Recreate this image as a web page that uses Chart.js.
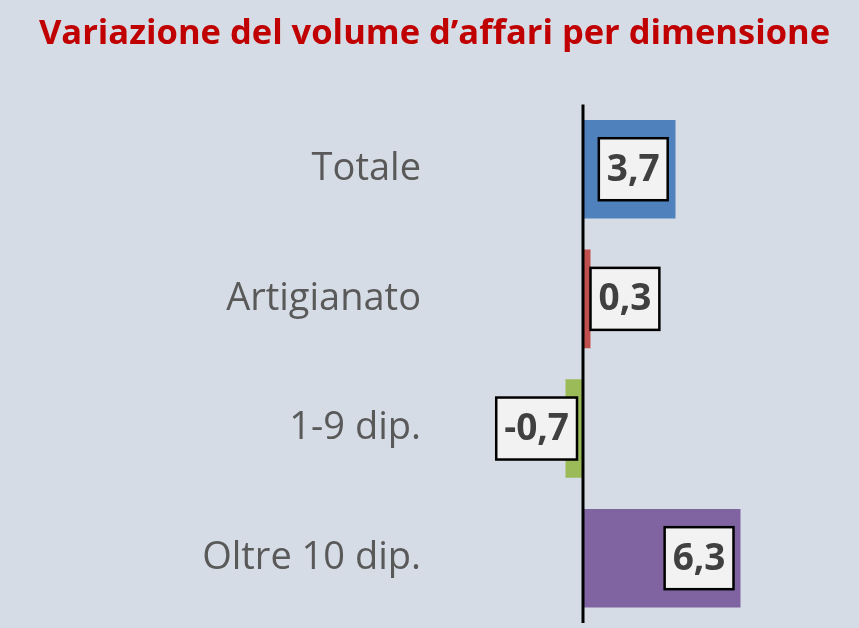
<!DOCTYPE html>
<html>
<head>
<meta charset="utf-8">
<script src="https://cdn.jsdelivr.net/npm/chart.js@4"></script>
<style>
  html, body { margin: 0; padding: 0; background: #d6dce5; }
  #wrap { width: 859px; height: 628px; }
</style>
</head>
<body>
<div id="wrap"><canvas id="chart"></canvas></div>
<script>
const categories = ['Totale', 'Artigianato', '1-9 dip.', 'Oltre 10 dip.'];
const values = [3.7, 0.3, -0.7, 6.3];
const barColors = ['#4f81bd', '#c0504d', '#9bbb59', '#8064a2'];
// where each value box sits relative to its bar
const labelPos = ['center', 'outside', 'outside', 'inside'];

// black zero line + boxed value labels
const boxLabels = {
  id: 'boxLabels',
  afterDatasetsDraw(chart) {
    const ctx = chart.ctx;
    const area = chart.chartArea;
    const x0 = chart.scales.x.getPixelForValue(0);
    ctx.save();
    ctx.strokeStyle = '#000';
    ctx.lineWidth = 3;
    ctx.beginPath();
    ctx.moveTo(x0, area.top);
    ctx.lineTo(x0, area.bottom);
    ctx.stroke();

    const meta = chart.getDatasetMeta(0);
    ctx.font = 'bold 37px "Open Sans"';
    meta.data.forEach((bar, i) => {
      const text = values[i].toFixed(1).replace('.', ',');
      const w = ctx.measureText(text).width + 16;
      const h = 62;
      const neg = values[i] < 0;
      let left;
      if (labelPos[i] === 'center') {
        left = (bar.x + bar.base) / 2 - w / 2 + 4;
      } else if (labelPos[i] === 'outside') {
        left = neg ? bar.base - 6 - w : bar.x;
      } else {
        left = bar.x - 7 - w;
      }
      const top = bar.y - h / 2;
      ctx.fillStyle = '#f2f2f2';
      ctx.fillRect(left, top, w, h);
      ctx.lineWidth = 2.5;
      ctx.strokeStyle = '#000';
      ctx.strokeRect(left, top, w, h);
      ctx.fillStyle = '#404040';
      ctx.textAlign = 'center';
      ctx.textBaseline = 'middle';
      ctx.fillText(text, left + w / 2, bar.y + 1);
    });
    ctx.restore();
  }
};

new Chart(document.getElementById('chart'), {
  type: 'bar',
  data: {
    labels: categories,
    datasets: [{
      data: values,
      backgroundColor: barColors,
      categoryPercentage: 1,
      barPercentage: 0.76,
    }],
  },
  options: {
    indexAxis: 'y',
    responsive: true,
    maintainAspectRatio: false,
    animation: false,
    layout: { padding: { left: 36, right: 26, bottom: 5 } },
    plugins: {
      legend: { display: false },
      tooltip: { enabled: false },
      title: {
        display: true,
        text: 'Variazione del volume d\u2019affari per dimensione',
        color: '#c00000',
        font: { family: 'Open Sans', size: 34.5, weight: 'bold' },
        padding: { top: 13, bottom: 50 },
      },
    },
    scales: {
      x: {
        display: false,
        min: -6,
        max: 10,
      },
      y: {
        border: { display: false },
        grid: { display: false },
        afterFit: scale => {
          scale.width = 397;
          scale.paddingTop = 0;
          scale.paddingBottom = 0;
        },
        ticks: {
          color: '#595959',
          padding: 4,
          font: { family: 'Open Sans', size: 38 },
        },
      },
    },
  },
  plugins: [boxLabels],
});
</script>
</body>
</html>
